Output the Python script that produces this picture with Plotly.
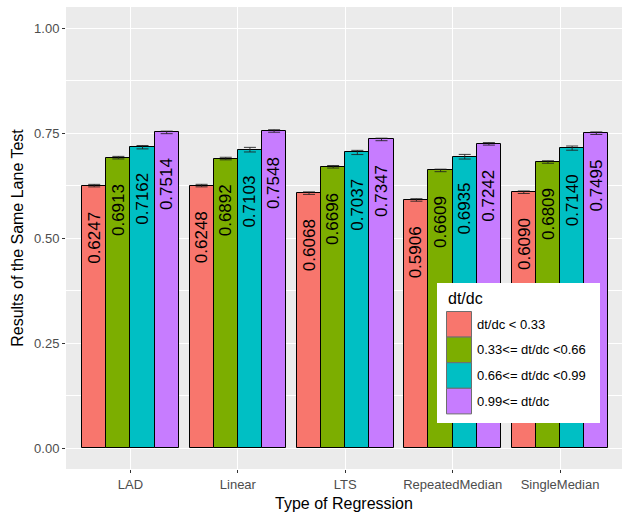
import plotly.graph_objects as go

categories = ["LAD", "Linear", "LTS", "RepeatedMedian", "SingleMedian"]
groups = ["dt/dc < 0.33", "0.33<= dt/dc <0.66", "0.66<= dt/dc <0.99", "0.99<= dt/dc"]
colors = ["#F8766D", "#7CAE00", "#00BFC4", "#C77CFF"]

vals_g1 = [0.6247, 0.6248, 0.6068, 0.5906, 0.6090]
vals_g2 = [0.6913, 0.6892, 0.6696, 0.6609, 0.6809]
vals_g3 = [0.7162, 0.7103, 0.7037, 0.6935, 0.7140]
vals_g4 = [0.7514, 0.7548, 0.7347, 0.7242, 0.7495]

err_g1 = [0.003, 0.003, 0.003, 0.003, 0.003]
err_g2 = [0.003, 0.003, 0.003, 0.003, 0.003]
err_g3 = [0.004, 0.0055, 0.005, 0.0055, 0.005]
err_g4 = [0.003, 0.003, 0.003, 0.003, 0.003]

yticks = [0.0, 0.25, 0.5, 0.75, 1.0]
minor_yticks = [0.125, 0.375, 0.625, 0.875]

values = [vals_g1, vals_g2, vals_g3, vals_g4]
errors = [err_g1, err_g2, err_g3, err_g4]

FONT = "Liberation Sans, Arial, Helvetica, sans-serif"
W, H = 622, 516
ML, MR, MT, MB = 66, 0, 7, 47

n_groups = len(groups)
group_width = 0.9
bar_w = group_width / n_groups
xs = list(range(len(categories)))

fig = go.Figure()
annotations = []
for gi, (g, c) in enumerate(zip(groups, colors)):
    off = -group_width / 2 + bar_w * (gi + 0.5)
    xpos = [x + off for x in xs]
    fig.add_trace(go.Bar(
        x=xpos, y=values[gi], width=bar_w, name=g,
        marker=dict(color=c, line=dict(color="black", width=1)),
        error_y=dict(type="data", array=errors[gi], color="rgba(30,30,30,0.85)",
                     thickness=1, width=6),
        showlegend=False,
    ))
    for x, v in zip(xpos, values[gi]):
        annotations.append(dict(
            x=x, y=v, xref="x", yref="y", text=f"{v:.4f}", showarrow=False,
            textangle=-90, yanchor="top", xanchor="center", yshift=-24,
            font=dict(family=FONT, size=17, color="black"),
        ))

# manual legend (ggplot style)
def px_x(p):
    return (p - ML) / (W - ML - MR)

def px_y(p):
    return 1 - (p - MT) / (H - MT - MB)

shapes = [dict(type="rect", xref="paper", yref="paper",
               x0=px_x(437), x1=px_x(600), y0=px_y(423), y1=px_y(283),
               fillcolor="white", line=dict(width=0), layer="above")]
annotations.append(dict(x=px_x(446), y=px_y(298), xref="paper", yref="paper",
                        text="dt/dc", showarrow=False, xanchor="left", yanchor="middle",
                        font=dict(family=FONT, size=16, color="black")))
key_top = 311.5
key_h = 25.6
for gi, (g, c) in enumerate(zip(groups, colors)):
    t = key_top + gi * key_h
    shapes.append(dict(type="rect", xref="paper", yref="paper",
                       x0=px_x(446.5), x1=px_x(471.5), y0=px_y(t + key_h), y1=px_y(t),
                       fillcolor=c, line=dict(color="#6e6e6e", width=1), layer="above"))
    annotations.append(dict(x=px_x(475), y=px_y(t + key_h / 2), xref="paper", yref="paper",
                            text=g, showarrow=False, xanchor="left", yanchor="middle",
                            font=dict(family=FONT, size=13, color="black")))

fig.update_layout(
    width=W, height=H,
    margin=dict(l=ML, r=MR, t=MT, b=MB, pad=0),
    paper_bgcolor="white", plot_bgcolor="#EBEBEB",
    barmode="overlay", bargap=0,
    font=dict(family=FONT, color="black"),
    annotations=annotations, shapes=shapes,
    xaxis=dict(
        range=[-0.6, 4.5767], tickvals=xs, ticktext=categories,
        showgrid=True, gridcolor="white", gridwidth=1.1, zeroline=False,
        ticks="outside", ticklen=3, tickcolor="#333333", tickwidth=1,
        tickfont=dict(family=FONT, size=13, color="#4D4D4D"),
        title=dict(text="Type of Regression", font=dict(family=FONT, size=16, color="black"), standoff=7),
        showline=False,
    ),
    yaxis=dict(
        range=[-0.05, 1.05], tickvals=yticks, tickformat=".2f",
        showgrid=True, gridcolor="white", gridwidth=1.1, zeroline=False,
        ticks="outside", ticklen=3, tickcolor="#333333", tickwidth=1,
        tickfont=dict(family=FONT, size=13, color="#4D4D4D"),
        minor=dict(tickvals=minor_yticks, showgrid=True, gridcolor="white", gridwidth=0.55, ticks=""),
        title=dict(text="Results of the Same Lane Test", font=dict(family=FONT, size=16, color="black"), standoff=6),
        showline=False,
    ),
)

fig.write_html(
    "out.html",
    config={"displayModeBar": False},
    post_script="document.body.style.margin='0';document.body.style.overflow='hidden';",
)
